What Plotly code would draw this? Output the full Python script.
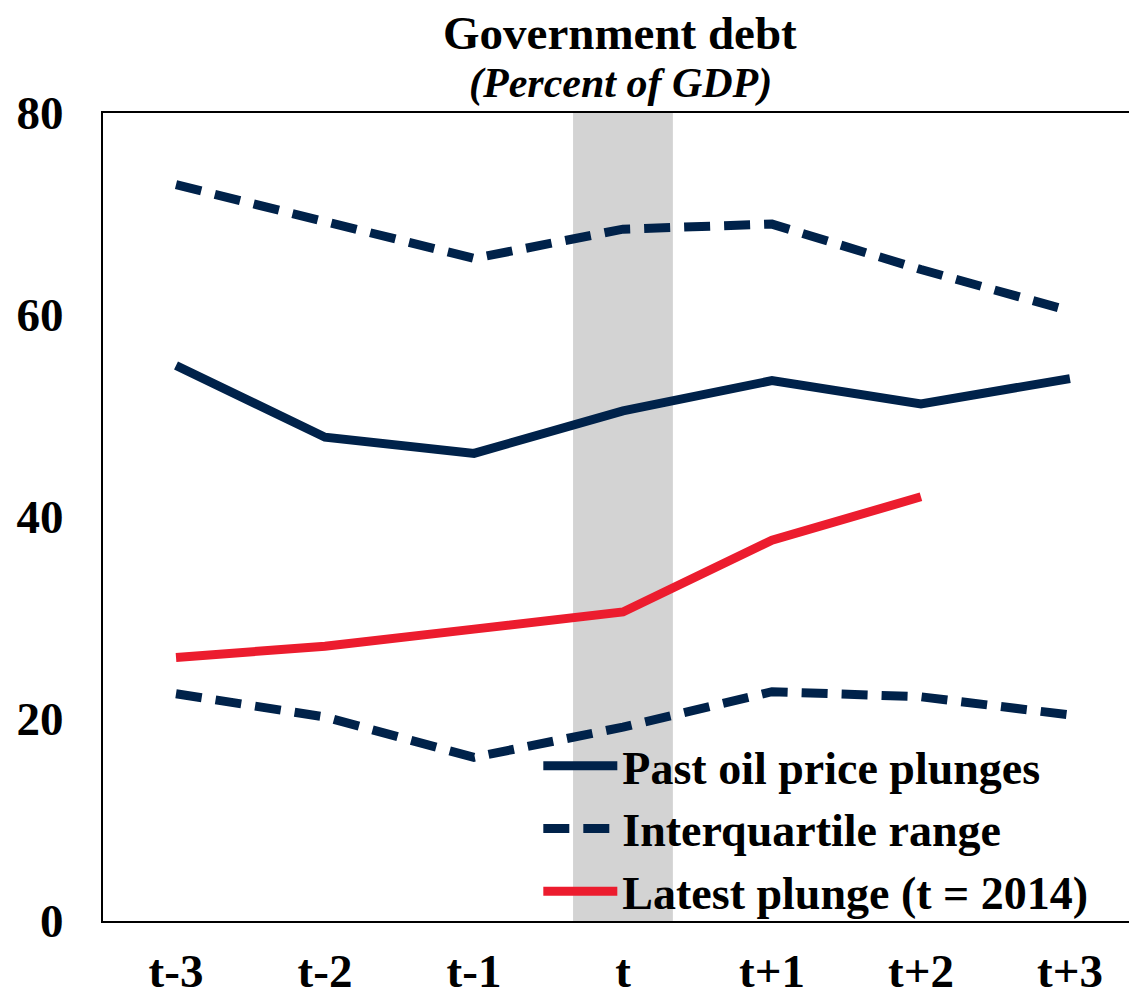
import plotly.graph_objects as go

categories = ["t-3", "t-2", "t-1", "t", "t+1", "t+2", "t+3"]
past_plunges = [55.0, 47.9, 46.3, 50.5, 53.5, 51.2, 53.7]
iqr_upper = [72.9, 69.2, 65.6, 68.5, 69.0, 64.5, 60.4]
iqr_lower = [22.5, 20.2, 16.2, 19.2, 22.7, 22.2, 20.4]
latest_categories = ["t-3", "t-2", "t-1", "t", "t+1", "t+2"]
latest_plunge = [26.1, 27.2, 28.9, 30.6, 37.7, 42.0]
y_ticks = [0, 20, 40, 60, 80]

navy = "#00224A"
red = "#EC1C2E"
font_family = "Liberation Serif, Times New Roman, serif"
fs = 47

fig = go.Figure()

idx = {c: i for i, c in enumerate(categories)}

fig.add_trace(go.Scatter(
    x=[idx[c] for c in categories], y=past_plunges, mode="lines",
    name="<b>Past oil price plunges</b>",
    line=dict(color=navy, width=9),
))
fig.add_trace(go.Scatter(
    x=[idx[c] for c in categories], y=iqr_upper, mode="lines",
    name="<b>Interquartile range</b>",
    line=dict(color=navy, width=9, dash="26px,14px"),
))
fig.add_trace(go.Scatter(
    x=[idx[c] for c in categories], y=iqr_lower, mode="lines",
    name="<b>Interquartile range</b>", showlegend=False,
    line=dict(color=navy, width=9, dash="26px,14px"),
))
fig.add_trace(go.Scatter(
    x=[idx[c] for c in latest_categories], y=latest_plunge, mode="lines",
    name="<b>Latest plunge (t = 2014)</b>",
    line=dict(color=red, width=9),
))

fig.add_shape(
    type="rect", xref="x", yref="paper",
    x0=idx["t"] - 0.335, x1=idx["t"] + 0.335, y0=0, y1=1,
    fillcolor="#D3D3D3", line=dict(width=0), layer="below",
)

fig.add_annotation(
    text="<b>Government debt</b>", xref="paper", yref="paper",
    x=0.5, y=1.099, xanchor="center", yanchor="middle", showarrow=False,
    font=dict(family=font_family, size=fs, color="black"),
)
fig.add_annotation(
    text="<b><i>(Percent of GDP)</i></b>", xref="paper", yref="paper",
    x=0.5, y=1.037, xanchor="center", yanchor="middle", showarrow=False,
    font=dict(family=font_family, size=42, color="black"),
)

# The page body has an 8px margin, so the figure is offset by 8px.
fig.update_layout(
    width=1129, height=989,
    margin=dict(l=95, r=0, t=105, b=76),
    paper_bgcolor="white", plot_bgcolor="white",
    font=dict(family=font_family, size=fs, color="black"),
    showlegend=True,
    legend=dict(
        x=0.421, y=-0.009, xanchor="left", yanchor="bottom",
        bgcolor="rgba(0,0,0,0)",
        font=dict(family=font_family, size=46, color="black"),
        itemwidth=74, tracegroupgap=0,
    ),
    xaxis=dict(
        range=[-0.49, 6.45],
        tickmode="array",
        tickvals=list(range(len(categories))),
        ticktext=[f"<b>{c}</b>" for c in categories],
        showgrid=False, zeroline=False,
        showline=True, linecolor="black", linewidth=2, mirror=True,
        ticks="", ticklabelstandoff=8, automargin=False,
        tickfont=dict(family=font_family, size=fs, color="black"),
    ),
    yaxis=dict(
        range=[0, 80],
        tickmode="array",
        tickvals=y_ticks,
        ticktext=[f"<b>{v}</b>" for v in y_ticks],
        showgrid=False, zeroline=False,
        showline=True, linecolor="black", linewidth=2,
        ticks="", ticklabelstandoff=28, automargin=False,
        tickfont=dict(family=font_family, size=fs, color="black"),
    ),
)

fig.write_html("out.html")
